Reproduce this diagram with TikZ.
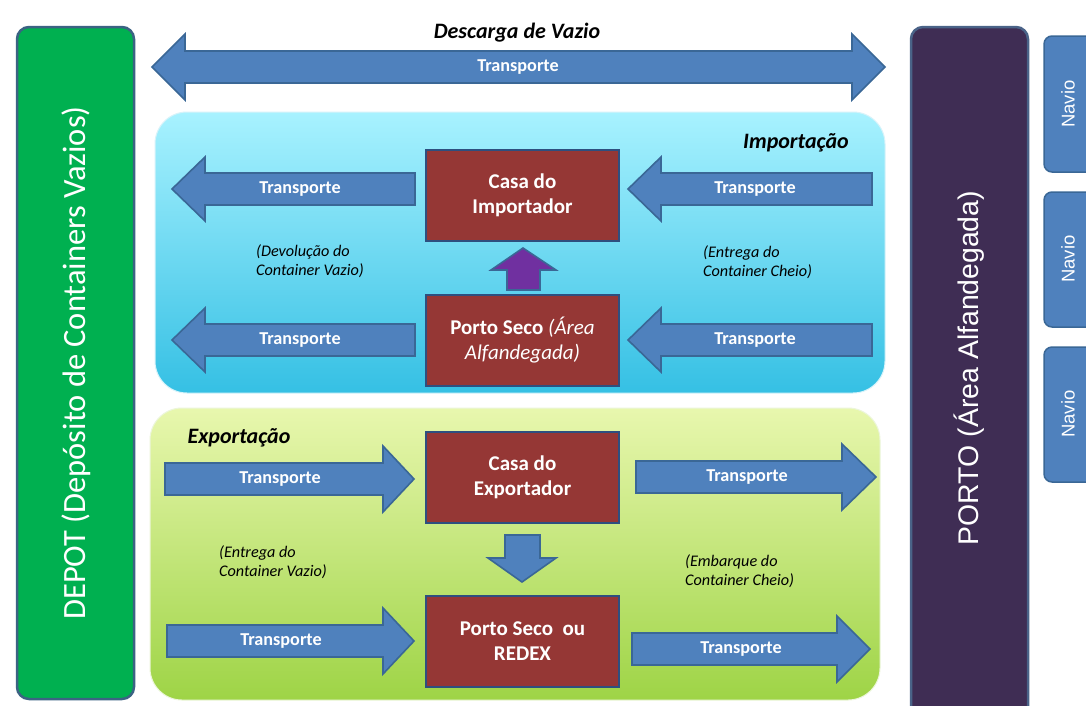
\documentclass[tikz,border=0pt]{standalone}
\usepackage{fontspec}
\setmainfont{Carlito}
\newfontfamily\arialf{Liberation Sans}
\definecolor{arrowblue}{HTML}{4F81BD}
\definecolor{arrowedge}{HTML}{3A6796}
\definecolor{boxred}{HTML}{953735}
\definecolor{boxedge}{HTML}{2E4F7F}
\definecolor{upviolet}{HTML}{7030A0}
\definecolor{depotgreen}{HTML}{00B050}
\definecolor{depotedge}{HTML}{3B6383}
\definecolor{portofill}{HTML}{3F2D54}
\definecolor{portoedge}{HTML}{4A6388}
\definecolor{impTop}{HTML}{A8F2FF}
\definecolor{impBot}{HTML}{35C0E4}
\definecolor{expTop}{HTML}{E8F7AE}
\definecolor{expBot}{HTML}{9ED446}
\tikzset{
  barrow/.style={fill=arrowblue, draw=arrowedge, line width=1.6pt, line join=miter},
  trlabel/.style={text=white, font=\bfseries\fontsize{18.2}{20}\selectfont},
  redbox/.style={fill=boxred, draw=boxedge, line width=2.5pt, minimum width=193pt, minimum height=91pt, text=white, align=center, font=\bfseries\fontsize{21}{25}\selectfont},
  note/.style={font=\itshape\fontsize{16.2}{18.5}\selectfont, align=left, anchor=west, inner sep=0pt},
  title/.style={font=\bfseries\itshape\fontsize{22}{24}\selectfont},
  navio/.style={fill=arrowblue, draw=arrowedge, line width=1.5pt, rounded corners=8pt},
  naviolabel/.style={rotate=90, text=white, font=\arialf\fontsize{18.5}{20}\selectfont},
}
% right-pointing block arrow: x start, x tip, y centre, shaft half, head half, head length
\newcommand{\arrR}[6]{%
  \filldraw[barrow] (#1,#3-#4) -- (#2-#6,#3-#4) -- (#2-#6,#3-#5) -- (#2,#3) -- (#2-#6,#3+#5) -- (#2-#6,#3+#4) -- (#1,#3+#4) -- cycle;}
% left-pointing block arrow: x tip, x end, y centre, shaft half, head half, head length
\newcommand{\arrL}[6]{%
  \filldraw[barrow] (#2,#3-#4) -- (#1+#6,#3-#4) -- (#1+#6,#3-#5) -- (#1,#3) -- (#1+#6,#3+#5) -- (#1+#6,#3+#4) -- (#2,#3+#4) -- cycle;}
\begin{document}
\begin{tikzpicture}[x=1pt,y=-1pt]
\clip (0,0) rectangle (1086,705);
\fill[white] (0,0) rectangle (1086,705);

% DEPOT
\filldraw[fill=depotgreen, draw=depotedge, line width=2.5pt, rounded corners=12pt] (17,27) rectangle (134,699);
\node[rotate=90, text=white, font=\fontsize{32.5}{34}\selectfont] (depot) at (76,363) {DEPOT (Depósito de Containers Vazios)};

% PORTO
\filldraw[fill=portofill, draw=portoedge, line width=2.5pt, rounded corners=12pt] (911,27) rectangle (1028,720);
\node[rotate=90, text=white, font=\arialf\fontsize{28.4}{30}\selectfont] (porto) at (969,368) {PORTO (Área Alfandegada)};

% Navios
\filldraw[navio] (1044,36) rectangle (1100,172);
\node[naviolabel] (navio1) at (1068,104) {Navio};
\filldraw[navio] (1044,192) rectangle (1100,327);
\node[naviolabel] (navio2) at (1068,259) {Navio};
\filldraw[navio] (1044,347) rectangle (1100,482);
\node[naviolabel] (navio3) at (1068,414) {Navio};

% top double arrow
\filldraw[barrow] (152,67) -- (185,34) -- (185,51) -- (852,51) -- (852,34) -- (885,67) -- (852,100) -- (852,83) -- (185,83) -- (185,100) -- cycle;
\node[trlabel] (tTop) at (518,67) {Transporte};
\node[title] (descarga) at (517,33) {Descarga de Vazio};

% Importacao panel
\shade[top color=impTop, bottom color=impBot, rounded corners=32pt] (155,112) rectangle (885,393);
\draw[white!80!impBot, line width=1pt, rounded corners=32pt] (155,112) rectangle (885,393);
\node[title] (imp) at (796,143) {Importação};

\node[redbox] (casaImp) at (522.5,195.5) {Casa do\\Importador};
\node[redbox] (portoSeco) at (522.5,340.5) {Porto Seco \textmd{\itshape(Área}\\\textmd{\itshape Alfandegada)}};

\arrL{172}{415}{189}{16}{32}{33}
\node[trlabel] (tI1) at (300,189) {Transporte};
\arrL{172}{415}{340}{16}{32}{33}
\node[trlabel] (tI2) at (300,340) {Transporte};
\arrL{628}{872}{189}{16}{32}{33}
\node[trlabel] (tI3) at (755,189) {Transporte};
\arrL{628}{872}{340}{16}{32}{33}
\node[trlabel] (tI4) at (755,340) {Transporte};

% purple up arrow
\filldraw[fill=upviolet, draw=arrowedge, line width=1.6pt] (523,248) -- (556,270) -- (540,270) -- (540,290) -- (507,290) -- (507,270) -- (491,270) -- cycle;

\node[note] (nI1) at (256,261) {(Devolução do\\Container Vazio)};
\node[note] (nI2) at (703,262) {(Entrega do\\Container Cheio)};

% Exportacao panel
\shade[top color=expTop, bottom color=expBot, rounded corners=32pt] (150,408) rectangle (880,700);
\draw[white!80!expBot, line width=1pt, rounded corners=32pt] (150,408) rectangle (880,700);
\node[title] (exp) at (239,438) {Exportação};

\node[redbox] (casaExp) at (522.5,477.5) {Casa do\\Exportador};
\node[redbox] (redex) at (522.5,641.5) {Porto Seco\ \ ou\\REDEX};

\arrR{165}{414}{479}{16}{33}{31}
\node[trlabel] (tE1) at (280,479) {Transporte};
\arrR{636}{876}{477}{16}{33}{34}
\node[trlabel] (tE2) at (747,477) {Transporte};
\arrR{167}{414}{641}{16}{33}{31}
\node[trlabel] (tE3) at (281,641) {Transporte};
\arrR{632}{870}{649}{16}{33}{33}
\node[trlabel] (tE4) at (741,649) {Transporte};

% down arrow
\filldraw[barrow] (505,535) -- (540,535) -- (540,558) -- (556,558) -- (522,582) -- (488,558) -- (505,558) -- cycle;

\node[note] (nE1) at (219,562) {(Entrega do\\Container Vazio)};
\node[note] (nE2) at (685,571) {(Embarque do\\Container Cheio)};
\end{tikzpicture}
\end{document}
